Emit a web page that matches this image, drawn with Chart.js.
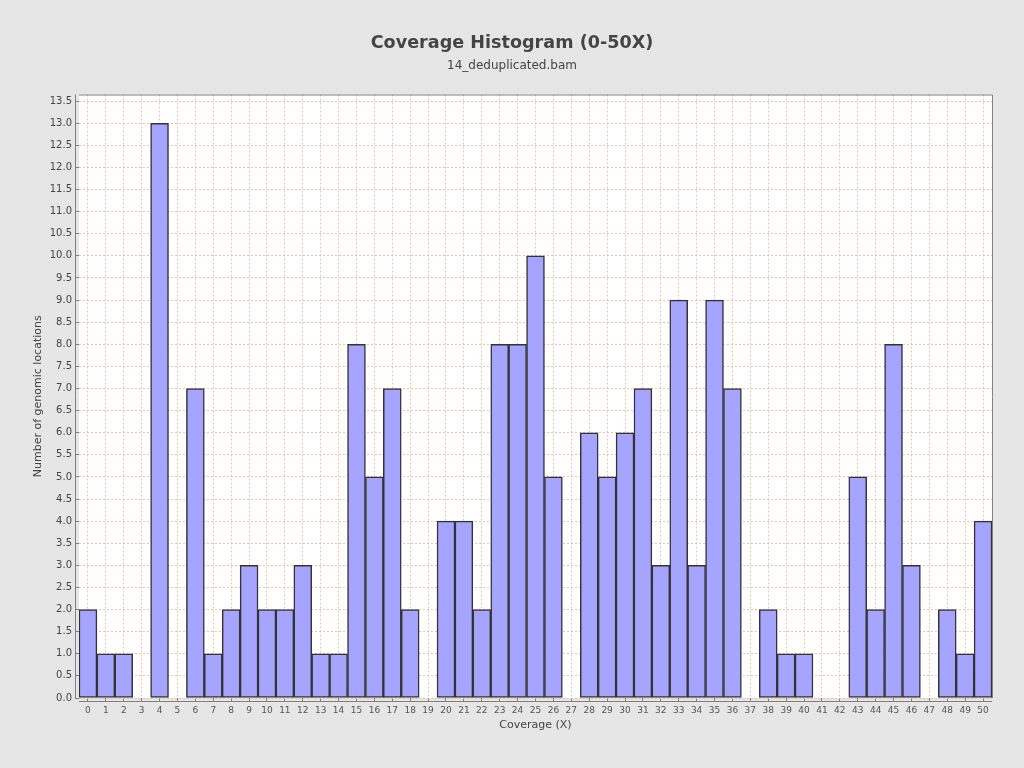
<!DOCTYPE html>
<html><head><meta charset="utf-8">
<script src="https://cdn.jsdelivr.net/npm/chart.js@4.4.0/dist/chart.umd.min.js"></script>
<style>html,body{margin:0;padding:0;background:#e6e6e6;}#wrap{width:1024px;height:768px;}</style>
</head><body><div id="wrap"><canvas id="c" width="1024" height="768"></canvas></div>
<script>
const categories = ["0","1","2","3","4","5","6","7","8","9","10","11","12","13","14","15","16","17","18","19","20","21","22","23","24","25","26","27","28","29","30","31","32","33","34","35","36","37","38","39","40","41","42","43","44","45","46","47","48","49","50"];
const counts = [2,1,1,0,13,0,7,1,2,3,2,2,3,1,1,8,5,7,2,0,4,4,2,8,8,10,5,0,6,5,6,7,3,9,3,9,7,0,2,1,1,0,0,5,2,8,3,0,2,1,4];
const yTickValues = [0,0.5,1,1.5,2,2.5,3,3.5,4,4.5,5,5.5,6,6.5,7,7.5,8,8.5,9,9.5,10,10.5,11,11.5,12,12.5,13,13.5];
const titleText = "Coverage Histogram (0-50X)";
const subtitleText = "14_deduplicated.bam";
const xTitle = "Coverage (X)";
const yTitle = "Number of genomic locations";

const gridCol = 'rgba(232,180,140,0.8)';

const plotBg = {
  id:'plotBg',
  beforeDraw(chart){
    const {ctx, chartArea:a} = chart;
    ctx.save();
    ctx.fillStyle = '#ffffff';
    ctx.fillRect(a.left, a.top, a.right-a.left, a.bottom-a.top);
    ctx.restore();
  },
  afterDraw(chart){
    const {ctx, chartArea:a} = chart;
    ctx.save();
    ctx.strokeStyle = '#808080';
    ctx.lineWidth = 1;
    ctx.beginPath();
    ctx.moveTo(a.left, a.top+0.5); ctx.lineTo(a.right+0.5, a.top+0.5); ctx.lineTo(a.right+0.5, a.bottom);
    ctx.stroke();
    ctx.beginPath();
    ctx.moveTo(a.left-3.5, a.top); ctx.lineTo(a.left-3.5, a.bottom);
    ctx.moveTo(a.left, a.bottom+3.5); ctx.lineTo(a.right, a.bottom+3.5);
    ctx.stroke();
    ctx.restore();
  }
};

new Chart(document.getElementById('c'), {
  type:'bar',
  data:{labels:categories, datasets:[{data:counts, backgroundColor:'#a5a5ff', borderColor:'#333333', borderWidth:1.5, barPercentage:1, categoryPercentage:1, borderSkipped:false}]},
  options:{
    responsive:false, animation:false,
    layout:{padding:{left:0,right:0,top:0,bottom:32}},
    plugins:{
      legend:{display:false}, tooltip:{enabled:false},
      title:{display:true, text:titleText, color:'#444444', font:{family:'DejaVu Sans', size:17.6, weight:'bold'}, padding:{top:33,bottom:5}},
      subtitle:{display:true, text:subtitleText, color:'#444444', font:{family:'DejaVu Sans', size:12}, padding:{top:0,bottom:21}}
    },
    scales:{
      x:{
        grid:{offset:false, color:gridCol, tickColor:'#808080', tickLength:4, drawTicks:true},
        border:{display:false, dash:[2,2]},
        ticks:{color:'#555', font:{family:'DejaVu Sans', size:9}, maxRotation:0, autoSkip:false, padding:3},
        title:{display:true, text:xTitle, color:'#444', font:{family:'DejaVu Sans', size:11}, padding:{top:0,bottom:4}},
        afterFit(s){ s.height = 38; }
      },
      y:{
        min:0, max:13.65,
        afterBuildTicks(s){ s.ticks = yTickValues.map(v=>({value:v})); },
        grid:{color:gridCol, tickColor:'#808080', tickLength:4},
        border:{display:false, dash:[2,2]},
        ticks:{color:'#444', font:{family:'DejaVu Sans', size:10}, padding:3, callback:v=>Number(v).toFixed(1)},
        title:{display:true, text:yTitle, color:'#444', font:{family:'DejaVu Sans', size:11}, padding:32},
        afterFit(s){ s.width = 79; }
      },
      y2:{
        position:'right', display:true,
        grid:{display:false}, border:{display:false}, ticks:{display:false},
        afterFit(s){ s.width = 32; }
      }
    }
  },
  plugins:[plotBg]
});
</script></body></html>
